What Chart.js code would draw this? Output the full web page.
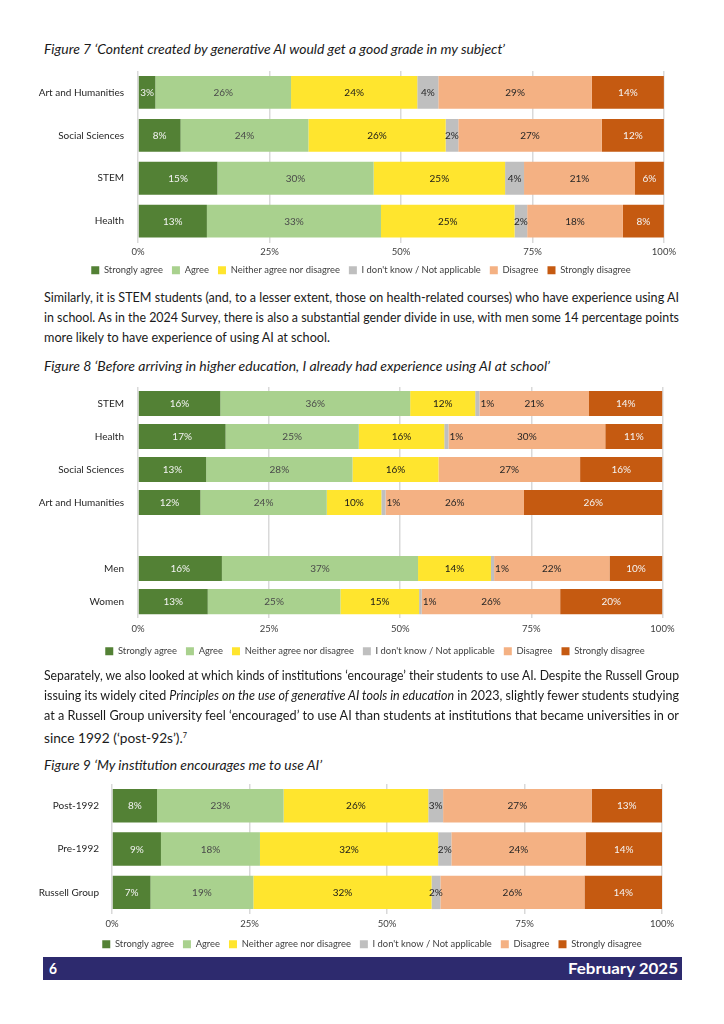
<!DOCTYPE html>
<html>
<head>
<meta charset="utf-8">
<script src="https://cdn.jsdelivr.net/npm/chart.js@4.4.1/dist/chart.umd.min.js"></script>
<style>
    html, body { margin: 0; padding: 0; background: #fff; }
    body { width: 724px; height: 1024px; position: relative; overflow: hidden; font-family: Lato, "Noto Sans", sans-serif; color: #1a1a1a; }
    .ln { position: absolute; left: 44px; height: 20px; line-height: 20px; font-size: 13px; white-space: nowrap; transform-origin: 0 0; display: inline-block; }
    .ttl { font-style: italic; }
    .box { position: absolute; left: 30px; width: 650px; }
    .foot { position: absolute; left: 43px; top: 957px; width: 639px; height: 23px; background: #2d2a6e; color: #fff; font-weight: 700; font-size: 15px; line-height: 23px; }
    .foot span { position: absolute; top: 0; white-space: nowrap; transform-origin: 0 0; }
    sup { font-size: 7px; vertical-align: 5px; }
</style>
</head>
<body>

<div class="ln ttl" data-w="461" style="top:39px">Figure 7 ‘Content created by generative AI would get a good grade in my subject’</div>
<div class="box" style="top:59px;height:226px"><canvas id="fig7"></canvas></div>

<div class="ln" data-w="635" style="top:287px">Similarly, it is STEM students (and, to a lesser extent, those on health-related courses) who have experience using AI</div>
<div class="ln" data-w="635" style="top:307px">in school. As in the 2024 Survey, there is also a substantial gender divide in use, with men some 14 percentage points</div>
<div class="ln" data-w="286" style="top:327px">more likely to have experience of using AI at school.</div>

<div class="ln ttl" data-w="506" style="top:356px">Figure 8 ‘Before arriving in higher education, I already had experience using AI at school’</div>
<div class="box" style="top:375px;height:291px"><canvas id="fig8"></canvas></div>

<div class="ln" data-w="635" style="top:665px">Separately, we also looked at which kinds of institutions ‘encourage’ their students to use AI. Despite the Russell Group</div>
<div class="ln" data-w="635" style="top:685px">issuing its widely cited <i>Principles on the use of generative AI tools in education</i> in 2023, slightly fewer students studying</div>
<div class="ln" data-w="635" style="top:705px">at a Russell Group university feel ‘encouraged’ to use AI than students at institutions that became universities in or</div>
<div class="ln" data-w="143" style="top:725px">since 1992 (‘post-92s’).<sup>7</sup></div>

<div class="ln ttl" data-w="278" style="top:755px">Figure 9 ‘My institution encourages me to use AI’</div>
<div class="box" style="top:773px;height:186px"><canvas id="fig9"></canvas></div>

<div class="foot">
    <span data-w="8" style="left:6px">6</span>
    <span data-w="110" style="left:525px">February 2025</span>
</div>

<script>
/* ----------------------------------------------------------------------
   DADOS
---------------------------------------------------------------------- */
const legendLabels = ["Strongly agree", "Agree", "Neither agree nor disagree", "I don't know / Not applicable", "Disagree", "Strongly disagree"];
const xTickLabels = ["0%", "25%", "50%", "75%", "100%"];

// Figure 7
const fig7Categories = ["Art and Humanities", "Social Sciences", "STEM", "Health"];
const fig7StronglyAgree = [3.3, 8.1, 15.1, 13.1];
const fig7Agree = [25.8, 24.3, 29.7, 33.1];
const fig7Neither = [24.0, 26.1, 25.0, 25.4];
const fig7DontKnow = [4.0, 2.4, 3.6, 2.4];
const fig7Disagree = [29.2, 27.3, 21.1, 18.2];
const fig7StronglyDisagree = [13.7, 11.8, 5.5, 7.8];

// Figure 8 (blank row between subjects and gender)
const fig8Categories = ["STEM", "Health", "Social Sciences", "Art and Humanities", "", "Men", "Women"];
const fig8StronglyAgree = [15.7, 16.7, 13.0, 11.9, null, 16.0, 13.3];
const fig8Agree = [36.2, 25.4, 27.9, 24.1, null, 37.4, 25.3];
const fig8Neither = [12.4, 16.3, 16.4, 10.4, null, 13.9, 15.0];
const fig8DontKnow = [0.8, 0.8, 0, 0.8, null, 0.6, 0.5];
const fig8Disagree = [20.9, 29.9, 27.0, 26.4, null, 22.0, 26.4];
const fig8StronglyDisagree = [14.0, 10.9, 15.7, 26.4, null, 10.1, 19.5];

// Figure 9
const fig9Categories = ["Post-1992", "Pre-1992", "Russell Group"];
const fig9StronglyAgree = [8.2, 8.9, 7.0];
const fig9Agree = [23.0, 18.0, 18.7];
const fig9Neither = [26.3, 32.4, 32.4];
const fig9DontKnow = [2.7, 2.4, 1.6];
const fig9Disagree = [27.0, 24.4, 26.2];
const fig9StronglyDisagree = [12.8, 13.9, 14.1];

/* CORES */
const seriesColors = ["#538135", "#a9d18e", "#ffe52e", "#bfbfbf", "#f4b183", "#c55a11"];
const labelColors = ["#f4f4f4", "#4a4a4a", "#1a1a1a", "#262626", "#262626", "#f4f4f4"];

Chart.defaults.font.family = "Lato, 'Noto Sans', sans-serif";

/* ----------------------------------------------------------------------
   RÓTULOS DENTRO DAS BARRAS
---------------------------------------------------------------------- */
const segmentLabels = {
    id: "segmentLabels",
    afterDatasetsDraw(chart) {
        const ctx = chart.ctx;
        ctx.save();
        ctx.font = "10px Lato";
        ctx.textBaseline = "middle";
        chart.data.datasets.forEach((ds, i) => {
            const meta = chart.getDatasetMeta(i);
            meta.data.forEach((bar, j) => {
                const v = ds.data[j];
                if (!v) return;
                const txt = Math.round(v) + "%";
                const w = bar.x - bar.base;
                ctx.fillStyle = labelColors[i];
                if (w < 8) {
                    ctx.textAlign = "left";
                    ctx.fillText(txt, bar.x + 1, bar.y + 0.5);
                } else {
                    ctx.textAlign = "center";
                    ctx.fillText(txt, (bar.x + bar.base) / 2, bar.y + 0.5);
                }
            });
        });
        ctx.restore();
    }
};

/* legenda centrada como no original */
const legendShift = {
    id: "legendShift",
    afterLayout(chart, args, opts) {
        const lg = chart.legend;
        if (!lg) return;
        lg.left += opts.dx;
        lg.right += opts.dx;
    }
};

/* ----------------------------------------------------------------------
   GRÁFICO
---------------------------------------------------------------------- */
function buildChart(id, categories, series, cfg) {
    return new Chart(document.getElementById(id), {
        type: "bar",
        data: {
            labels: categories,
            datasets: series.map((vals, i) => ({
                label: legendLabels[i],
                data: vals,
                backgroundColor: seriesColors[i],
                borderWidth: 0,
                barPercentage: cfg.bar,
                categoryPercentage: 1
            }))
        },
        options: {
            indexAxis: "y",
            responsive: true,
            maintainAspectRatio: false,
            animation: false,
            layout: { padding: { top: cfg.top, right: cfg.right, left: 0, bottom: 0 } },
            scales: {
                x: {
                    stacked: true, min: 0, max: 100,
                    ticks: {
                        stepSize: 25,
                        callback: (v, i) => xTickLabels[i],
                        color: "#404040", font: { size: 9.5 }, padding: cfg.tickPad
                    },
                    grid: { color: "#d9d9d9", lineWidth: 1.5, drawTicks: false },
                    border: { display: false },
                    afterFit: s => { s.height = cfg.xh; }
                },
                y: {
                    stacked: true,
                    ticks: { color: "#262626", font: { size: 10 }, padding: cfg.yPad },
                    grid: { display: false },
                    border: { display: false },
                    afterFit: s => { s.width = cfg.yw; }
                }
            },
            plugins: {
                legend: {
                    position: "bottom",
                    labels: { boxWidth: 8, boxHeight: 8, color: "#404040", font: { size: 9.4 }, padding: 9 }
                },
                legendShift: { dx: cfg.legendDx },
                tooltip: { enabled: false }
            }
        },
        plugins: [segmentLabels, legendShift]
    });
}

/* TEXTO: ajusta cada linha à largura do original */
document.querySelectorAll("[data-w]").forEach(el => {
    const nat = el.getBoundingClientRect().width;
    const target = +el.dataset.w;
    el.style.transform = "scaleX(" + (target / nat) + ")";
});

buildChart("fig7", fig7Categories,
    [fig7StronglyAgree, fig7Agree, fig7Neither, fig7DontKnow, fig7Disagree, fig7StronglyDisagree],
    { top: 9.6, right: 16, yw: 108, yPad: 6, xh: 14, tickPad: 4, bar: 0.765, legendDx: 14 });

buildChart("fig8", fig8Categories,
    [fig8StronglyAgree, fig8Agree, fig8Neither, fig8DontKnow, fig8Disagree, fig8StronglyDisagree],
    { top: 7.8, right: 16, yw: 108, yPad: 6, xh: 19.5, tickPad: 5.5, bar: 0.76, legendDx: 28 });

buildChart("fig9", fig9Categories,
    [fig9StronglyAgree, fig9Agree, fig9Neither, fig9DontKnow, fig9Disagree, fig9StronglyDisagree],
    { top: 8, right: 18, yw: 82, yPad: 5, xh: 16.5, tickPad: 4.5, bar: 0.77, legendDx: 26 });
</script>
</body>
</html>
